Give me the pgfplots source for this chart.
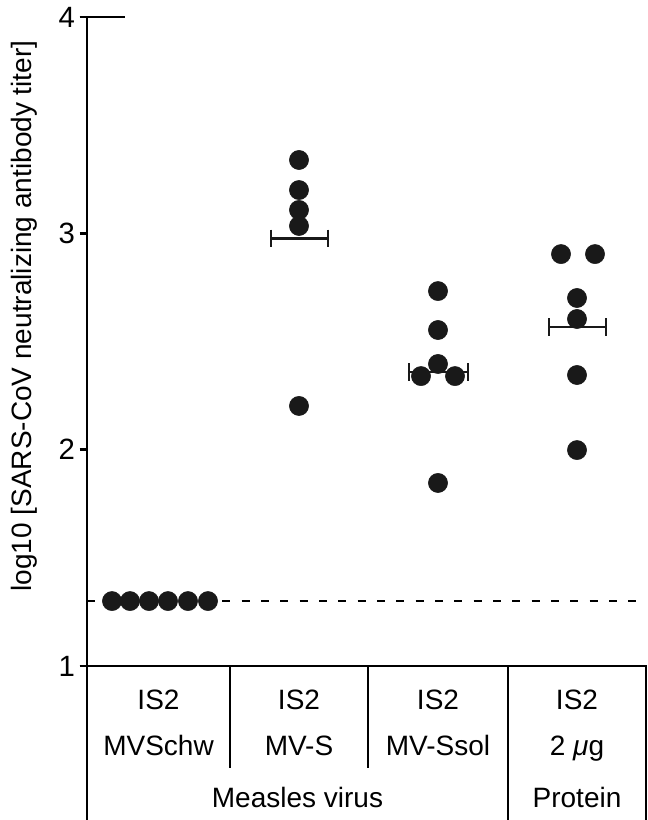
\documentclass[border=0pt]{standalone}
\usepackage{fontspec}
\setmainfont{Liberation Sans}
\usepackage{pgfplots}
\pgfplotsset{compat=1.18}

\begin{document}
\begin{tikzpicture}
\begin{axis}[
  scale only axis,
  width=419.25pt, height=602.25pt,
  xmin=87, xmax=646, ymin=0.288, ymax=4,
  axis x line=none,
  axis y line*=left,
  axis line style={line width=2pt, -},
  ytick={1,2,3,4},
  tick align=outside,
  major tick length=5.5pt,
  tick style={line width=2pt, black},
  yticklabel style={font=\fontsize{22}{24}\selectfont, /pgf/number format/assume math mode=true},
  clip=false,
]
% detection limit
\addplot[black, line width=2pt, dash pattern=on 6pt off 8.5pt, mark=none] coordinates {(87,1.3) (646,1.3)};

% means
\addplot[black!90, line width=2.2pt, mark=|, mark size=6.4pt, mark options={solid, line width=2.2pt}] coordinates {(271,2.978) (328,2.978)};
\addplot[black!90, line width=2.2pt, mark=|, mark size=6.4pt, mark options={solid, line width=2.2pt}] coordinates {(409,2.359) (468,2.359)};
\addplot[black!90, line width=2.2pt, mark=|, mark size=6.4pt, mark options={solid, line width=2.2pt}] coordinates {(549,2.567) (606,2.567)};

% individual titers
\addplot[only marks, mark=*, mark size=7.2pt, black!90] coordinates {
  (112,1.3) (130,1.3) (149,1.3) (168,1.3) (188,1.3) (208,1.3)
  (299,3.339) (299,3.200) (299,3.108) (299,3.034) (299,2.202)
  (438,2.733) (438,2.553) (438,2.396) (421,2.340) (455,2.340) (438,1.846)
  (561,2.904) (595,2.904) (577,2.701) (577,2.604) (577,2.345) (577,1.998)
};

% table under the axis
\draw[line width=2pt, line join=miter] (axis cs:80,1) -- (axis cs:646,1) -- (axis cs:646,0.288);
\draw[line width=2pt] (axis cs:80,4) -- (axis cs:125,4);
\draw[line width=2pt] (axis cs:230,1) -- (axis cs:230,0.528);
\draw[line width=2pt] (axis cs:368,1) -- (axis cs:368,0.528);
\draw[line width=2pt] (axis cs:508,1) -- (axis cs:508,0.288);

\begin{scope}[every node/.style={font=\fontsize{21}{23}\selectfont, anchor=base}]
\node at (axis cs:158.5,0.801) {IS2};
\node at (axis cs:299,0.801) {IS2};
\node at (axis cs:438,0.801) {IS2};
\node at (axis cs:577,0.801) {IS2};
\node at (axis cs:158.5,0.584) {MVSchw};
\node at (axis cs:299,0.584) {MV-S};
\node at (axis cs:438,0.584) {MV-Ssol};
\node at (axis cs:577,0.584) {2 \textit{μ}g};
\node at (axis cs:297.5,0.348) {Measles virus};
\node at (axis cs:577,0.348) {Protein};
\end{scope}

\node[font=\fontsize{21}{23}\selectfont, rotate=90] at (axis cs:24,2.618) {log10 [SARS-CoV neutralizing antibody titer]};

\coordinate (bbll) at (axis cs:0,0.288);
\coordinate (bbur) at (axis cs:648,4.0786);
\end{axis}
\pgfresetboundingbox
\path[use as bounding box] (bbll) rectangle (bbur);
\end{tikzpicture}
\end{document}
